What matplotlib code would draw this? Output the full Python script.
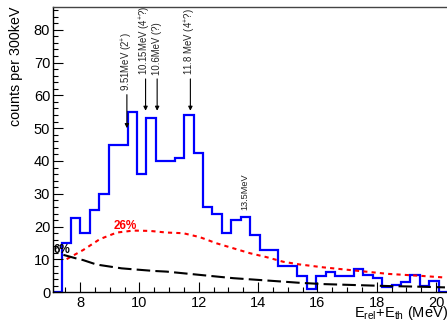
import matplotlib
matplotlib.use("Agg")
import matplotlib.pyplot as plt
import numpy as np

plt.rcParams['font.family'] = ['Liberation Sans', 'DejaVu Sans']
plt.rcParams['mathtext.fontset'] = 'custom'
plt.rcParams['mathtext.rm'] = 'Liberation Sans'
plt.rcParams['mathtext.it'] = 'Liberation Sans:italic'
plt.rcParams['mathtext.bf'] = 'Liberation Sans:bold'

# histogram: counts per bin, bins from 7.38 to 20.09 MeV
hist_lo, hist_hi = 7.38, 20.09
counts = [15, 22.5, 18, 25, 30, 45, 45, 55, 36, 53,
          40, 40, 41, 54, 42.5, 26, 24, 18, 22, 23,
          17.5, 13, 13, 8, 8, 5, 1, 5, 6.3, 5,
          5, 7.2, 5.3, 4.3, 1.5, 2.2, 3.2, 5.3, 2, 3.4]

# red dotted fit (26%)
red_x = [7.55, 8.11, 8.67, 9.24, 9.80, 10.36, 10.92, 11.48, 12.04, 12.61,
         13.17, 13.73, 14.29, 14.85, 15.39, 16.2, 17.3, 18.4, 19.5, 20.3]
red_y = [10.1, 12.9, 16.2, 18.2, 18.8, 18.7, 18.2, 18.0, 16.8, 14.9,
         13.4, 11.9, 10.7, 9.3, 8.5, 7.6, 6.6, 5.6, 5.0, 4.5]

# black dashed background (6%)
blk_x = [7.44, 7.84, 8.11, 8.51, 8.67, 9.4, 9.8, 10.5, 10.92, 12.04,
         13.17, 14.29, 15.39, 16.2, 17.3, 18.4, 19.5, 20.3]
blk_y = [11.4, 10.4, 9.8, 8.6, 8.3, 7.3, 7.0, 6.5, 6.3, 5.3,
         4.3, 3.6, 2.9, 2.5, 2.2, 1.9, 1.7, 1.5]

# states marked with arrows
state_x = [9.58, 10.21, 10.6, 11.72]
state_lbl = ['9.51MeV (2$^{+}$)', '10.15MeV (4$^{+}$?)', '10.6MeV (?)', '11.8 MeV (4$^{+}$?)']
arrow_top = [60.2, 65.0, 65.0, 65.0]
arrow_head = [50.0, 55.3, 55.3, 55.3]

xmin, xmax = 7.09, 20.47

fig = plt.figure(figsize=(4.47, 3.24), dpi=100)
ax = fig.add_axes([53/447, 1 - 292.3/324, 397/447, 285.6/324])

edges = np.concatenate([[xmin], np.linspace(hist_lo, hist_hi, len(counts) + 1), [xmax]])
vals = np.concatenate([[0], counts, [0]])
ax.stairs(vals, edges, color='#0000ff', lw=1.6)

ax.plot(red_x, red_y, color='#ff0000', lw=1.5, ls=(0, (2, 2)))
ax.plot(blk_x, blk_y, color='black', lw=1.5, ls=(0, (6.5, 2.5)))

for x, lbl, yt, yh in zip(state_x, state_lbl, arrow_top, arrow_head):
    ax.annotate('', xy=(x, yh), xytext=(x, yt),
                arrowprops=dict(arrowstyle='-|>', color='black', lw=0.8,
                                mutation_scale=6, shrinkA=0, shrinkB=0))
    ax.text(x, yt + 1.2, lbl, rotation=90, ha='center', va='bottom', fontsize=6.9,
            color='#222222')

ax.text(13.54, 30.5, '13.5MeV', rotation=90, ha='center', va='center', fontsize=6.6,
        color='#222222')
ax.text(9.53, 20.2, '26%', color='#ff0000', fontweight='bold', fontsize=8.5,
        ha='center', va='center')
ax.text(7.68, 12.9, '6%', color='black', fontweight='bold', fontsize=8.5,
        ha='right', va='center', clip_on=True)

ax.set_xlim(xmin, xmax)
ax.set_ylim(0, 87)
ax.set_xticks(np.arange(8, 21, 2))
ax.set_xticks(np.arange(7.5, 20.5, 0.5), minor=True)
ax.set_yticks(np.arange(0, 81, 10))
ax.set_yticks(np.arange(0, 87, 2), minor=True)
ax.tick_params(which='both', direction='in', top=False, right=False, labelsize=10.5, width=0.8)
ax.tick_params(which='major', length=7)
ax.tick_params(which='minor', length=3.5)
ax.tick_params(axis='x', pad=2.5)
ax.tick_params(axis='y', pad=2)
ax.spines['right'].set_visible(False)
for s in ['left', 'bottom', 'top']:
    ax.spines[s].set_linewidth(1.0)
ax.spines['top'].set_color('#444444')

fig.text(16/447, 1 - 7/324, 'counts per 300keV', rotation=90, ha='center', va='top', fontsize=10.3)
fig.text(448/447, 1 - 317.5/324, 'E$_{\\mathrm{rel}}$+E$_{\\mathrm{th}}$ (MeV)',
         ha='right', va='baseline', fontsize=10.5)

fig.savefig('out.png', dpi=100)
